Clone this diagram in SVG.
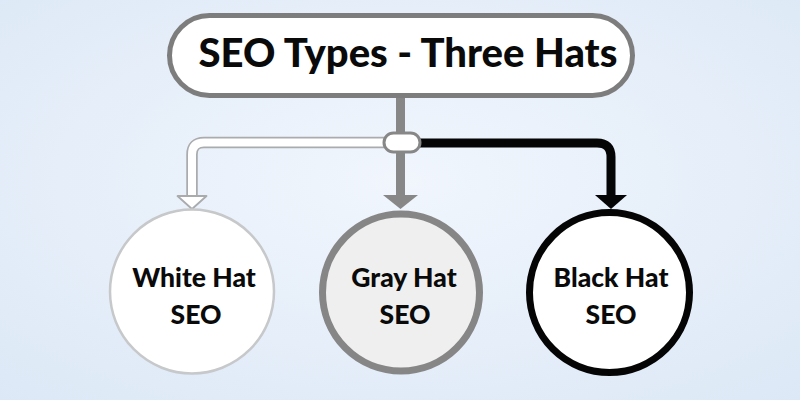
<svg xmlns="http://www.w3.org/2000/svg" width="800" height="400" viewBox="0 0 800 400">
  <defs>
    <radialGradient id="bg" cx="50%" cy="45%" r="75%">
      <stop offset="0" stop-color="#f1f6fd"/>
      <stop offset="1" stop-color="#dce8f6"/>
    </radialGradient>
  </defs>
  <style>
    .lbl { font-family: Lato, "Open Sans", "Liberation Sans", sans-serif; font-weight: 900; fill: #0a0a0a; text-anchor: middle; }
    .title { font-size: 40px; }
    .node { font-size: 26.5px; }
  </style>
  <rect x="0" y="0" width="800" height="400" fill="url(#bg)"/>

  <g id="connectors">
    <!-- gray -->
    <line x1="400.5" y1="96" x2="400.5" y2="198" stroke="#878787" stroke-width="9"/>
    <polygon points="383,195 418,195 400.5,209" fill="#878787"/>
    <!-- white -->
    <path d="M 386 142.5 H 204 Q 192 142.5 192 154.5 V 198" fill="none" stroke="#a9abad" stroke-width="11.5"/>
    <path d="M 386 142.5 H 204 Q 192 142.5 192 154.5 V 198" fill="none" stroke="#ffffff" stroke-width="8"/>
    <polygon points="177.5,196 206.5,196 192,209" fill="#ffffff" stroke="#a9abad" stroke-width="1.8" stroke-linejoin="round"/>
    <!-- black -->
    <path d="M 418 143 H 597 Q 611 143 611 157 V 198" fill="none" stroke="#050505" stroke-width="9"/>
    <polygon points="595,195 627,195 611,209" fill="#050505"/>
    <!-- junction -->
    <rect x="384" y="133" width="36" height="19" rx="9.5" fill="#ffffff" stroke="#878787" stroke-width="3"/>
  </g>

  <g id="title">
    <rect x="169.5" y="15.5" width="463" height="80" rx="40" fill="#ffffff" stroke="#7d7d7d" stroke-width="5"/>
    <text class="lbl title" x="408" y="67">SEO Types - Three Hats</text>
  </g>

  <g id="white-hat">
    <circle cx="192" cy="291.5" r="82" fill="#ffffff" stroke="#c6c8ca" stroke-width="2.5"/>
    <text class="lbl node" x="194" y="287">White Hat</text>
    <text class="lbl node" x="196" y="324">SEO</text>
  </g>

  <g id="gray-hat">
    <circle cx="401" cy="292.5" r="78.5" fill="#efefef" stroke="#868686" stroke-width="7"/>
    <text class="lbl node" x="404" y="287">Gray Hat</text>
    <text class="lbl node" x="405" y="324">SEO</text>
  </g>

  <g id="black-hat">
    <circle cx="609.5" cy="292.5" r="80" fill="#ffffff" stroke="#050505" stroke-width="7"/>
    <text class="lbl node" x="611" y="287">Black Hat</text>
    <text class="lbl node" x="611" y="324">SEO</text>
  </g>
</svg>
